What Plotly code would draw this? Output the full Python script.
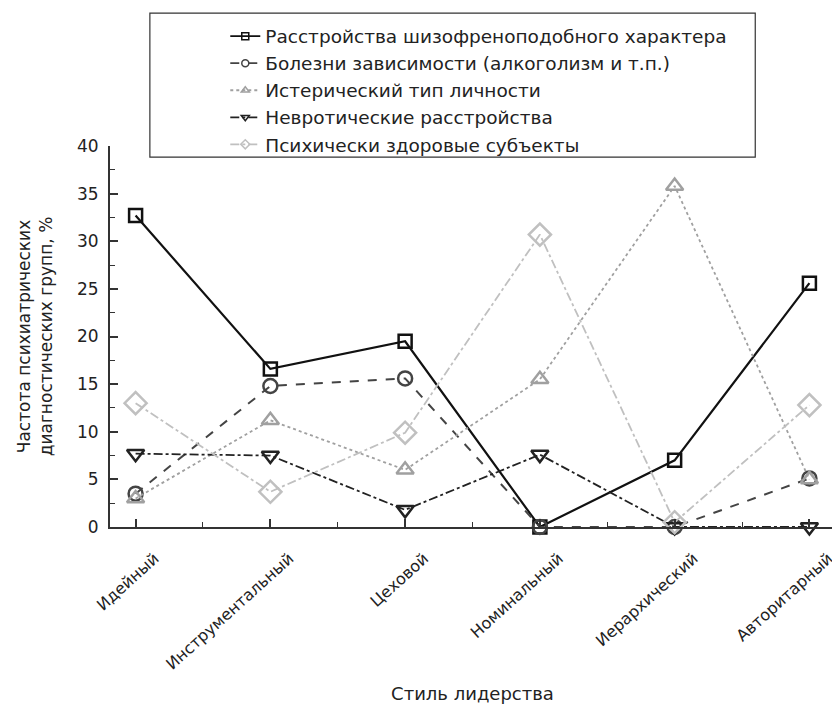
import plotly.graph_objects as go

categories = ["Идейный", "Инструментальный", "Цеховой", "Номинальный", "Иерархический", "Авторитарный"]
series_names = [
    "Расстройства шизофреноподобного характера",
    "Болезни зависимости (алкоголизм и т.п.)",
    "Истерический тип личности",
    "Невротические расстройства",
    "Психически здоровые субъекты",
]
schizo = [32.7, 16.6, 19.5, 0.0, 7.0, 25.6]
addiction = [3.5, 14.8, 15.6, 0.0, 0.0, 5.1]
hysteric = [3.0, 11.2, 6.0, 15.5, 35.8, 5.0]
neurotic = [7.7, 7.5, 1.8, 7.6, 0.0, 0.0]
healthy = [13.0, 3.7, 9.9, 30.7, 0.5, 12.8]
y_ticks = [0, 5, 10, 15, 20, 25, 30, 35, 40]

values = [schizo, addiction, hysteric, neurotic, healthy]
styles = [
    dict(color="#111111", dash="solid", symbol="square-open", size=13, lw=2.2),
    dict(color="#444444", dash="dash", symbol="circle-open", size=14, lw=2.0),
    dict(color="#a0a0a0", dash="dot", symbol="triangle-up-open", size=15, lw=1.8),
    dict(color="#222222", dash="dashdot", symbol="triangle-down-open", size=15, lw=1.8),
    dict(color="#c0c0c0", dash="dashdot", symbol="diamond-open", size=17, lw=1.8),
]

FONT = "DejaVu Sans, Liberation Sans, Arial, sans-serif"
xi = list(range(len(categories)))
fig = go.Figure()
for name, vals, st in zip(series_names, values, styles):
    fig.add_trace(go.Scatter(
        x=xi, y=vals, mode="lines+markers", name=name, showlegend=False,
        line=dict(color=st["color"], dash=st["dash"], width=st["lw"]),
        marker=dict(symbol=st["symbol"], size=st["size"], color=st["color"],
                    line=dict(width=2.5, color=st["color"])),
        cliponaxis=False,
    ))
for name, st in zip(series_names, styles):
    fig.add_trace(go.Scatter(
        x=[None], y=[None], mode="lines+markers", name=name, showlegend=True,
        line=dict(color=st["color"], dash=st["dash"], width=1.8),
        marker=dict(symbol=st["symbol"], size=7, color=st["color"],
                    line=dict(width=1.5, color=st["color"])),
    ))

# the page body adds an 8px offset, so the figure is drawn 8px smaller
fig.update_layout(
    width=832, height=696,
    margin=dict(l=102, r=5, t=138, b=177),
    paper_bgcolor="white", plot_bgcolor="white",
    font=dict(family=FONT, color="#222222", size=17),
    showlegend=True,
    legend=dict(x=0.159, y=1.337, xanchor="left", yanchor="top",
                bgcolor="rgba(0,0,0,0)", borderwidth=0,
                font=dict(size=18.5, color="#222222"), itemwidth=30,
                tracegroupgap=0),
    shapes=[dict(type="rect", xref="paper", yref="paper",
                 x0=0.055, x1=0.890, y0=0.971, y1=1.349,
                 line=dict(color="#333333", width=1.2), fillcolor="rgba(0,0,0,0)")],
)
fig.update_xaxes(
    range=[-0.19, 5.19], tickmode="array", tickvals=xi, ticktext=categories,
    tickangle=-42, ticks="inside", ticklen=8, tickwidth=1.5, tickcolor="#333",
    ticklabelshift=19, ticklabelstandoff=14, ticklabeloverflow="allow",
    minor=dict(ticks="inside", ticklen=5, tickwidth=1.2, tickcolor="#333",
               tickvals=[i + 0.5 for i in range(-1, len(categories))]),
    showline=True, linewidth=2, linecolor="#333", showgrid=False, zeroline=False,
    tickfont=dict(size=16), automargin=False,
    title=dict(text="Стиль лидерства", font=dict(size=18), standoff=27),
)
fig.update_yaxes(
    range=[0, 40], tickmode="array", tickvals=y_ticks,
    ticks="inside", ticklen=8, tickwidth=1.5, tickcolor="#333",
    ticklabelstandoff=6,
    minor=dict(ticks="inside", ticklen=5, tickwidth=1.2, tickcolor="#333", dtick=2.5),
    showline=True, linewidth=2, linecolor="#333", showgrid=False, zeroline=False,
    tickfont=dict(size=17), automargin=False,
    title=dict(text="Частота психиатрических<br>диагностических групп, %", font=dict(size=17), standoff=20),
)
fig.write_html("out.html")
